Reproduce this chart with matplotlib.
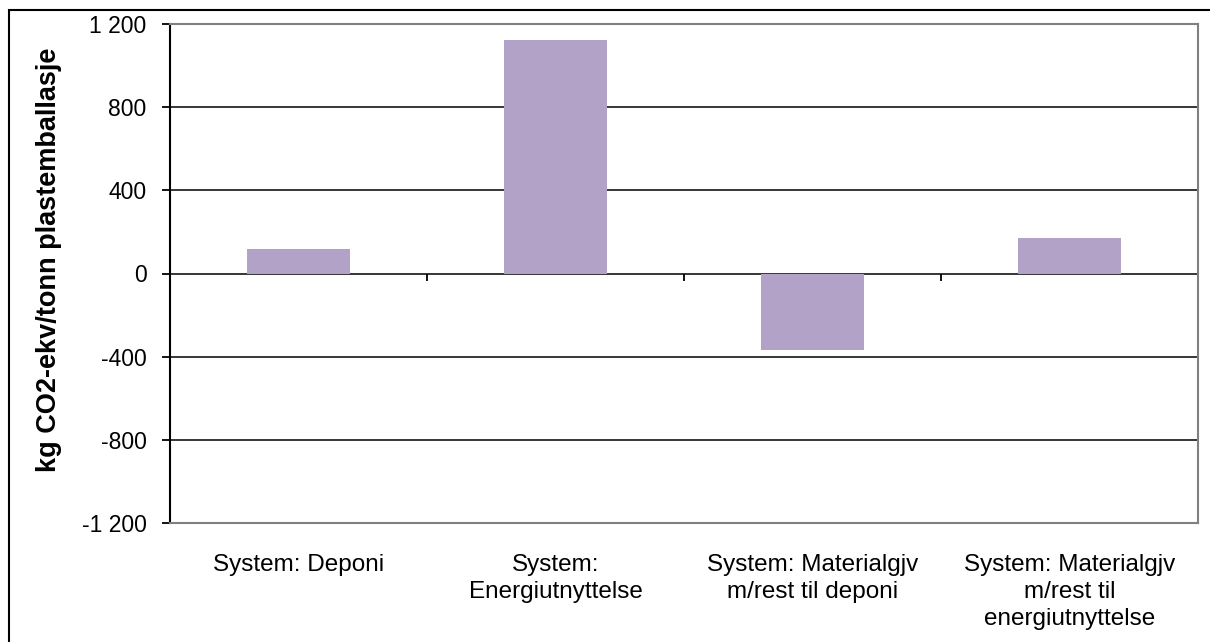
import matplotlib.pyplot as plt
from matplotlib.ticker import FuncFormatter, FixedLocator
from matplotlib.patches import Rectangle

categories = ['System: Deponi', 'System:\nEnergiutnyttelse',
              'System: Materialgjv\nm/rest til deponi',
              'System: Materialgjv\nm/rest til\nenergiutnyttelse']
values = [116, 1123, -368, 171]
yticks = [-1200, -800, -400, 0, 400, 800, 1200]

bar_colour = '#B3A2C7'

plt.rcParams['font.family'] = ['Liberation Sans', 'DejaVu Sans']

fig = plt.figure(figsize=(12.1, 6.42), dpi=100)
ax = fig.add_axes([170/1210, 1 - 523/642, 1028/1210, 499/642])

x = list(range(len(categories)))
ax.bar(x, values, width=0.4, color=bar_colour, zorder=3)

ax.set_xlim(-0.5, len(categories) - 0.5)
ax.set_ylim(-1200, 1200)
ax.set_yticks(yticks)
ax.yaxis.set_major_formatter(FuncFormatter(lambda v, p: format(int(v), ',').replace(',', ' ')))
ax.grid(axis='y', color='black', linewidth=1.1, zorder=1)
ax.set_axisbelow(True)

ax.set_xticks(x)
ax.set_xticklabels(categories, fontsize=17.5, linespacing=1.3)
ax.tick_params(axis='x', length=0, pad=22)
ax.tick_params(axis='y', direction='out', length=6, width=1.3, labelsize=16.5, pad=11)

for side in ['top', 'right', 'bottom']:
    ax.spines[side].set_color('#808080')
    ax.spines[side].set_linewidth(1.5)
ax.spines['left'].set_color('black')
ax.spines['left'].set_linewidth(1.5)

# category separators on the zero line, pointing down
sec = ax.secondary_xaxis(0.5)
sec.xaxis.set_major_locator(FixedLocator([i + 0.5 for i in x]))
sec.xaxis.set_ticks_position('bottom')
sec.tick_params(axis='x', which='both', direction='out', length=5, width=1.3,
                bottom=True, top=False, labelbottom=False, labeltop=False)
sec.spines['bottom'].set_visible(False)
sec.spines['top'].set_visible(False)

ax.set_ylabel('kg CO2-ekv/tonn plastemballasje', fontsize=19.5, fontweight='bold')
ax.yaxis.set_label_coords(-0.105, 0.527)

fig.patches.append(Rectangle((9/1210, -0.1), 1.2, 1 - 10/642 + 0.1, transform=fig.transFigure,
                             fill=False, edgecolor='black', linewidth=1.5))

fig.savefig('out.png', dpi=100)
